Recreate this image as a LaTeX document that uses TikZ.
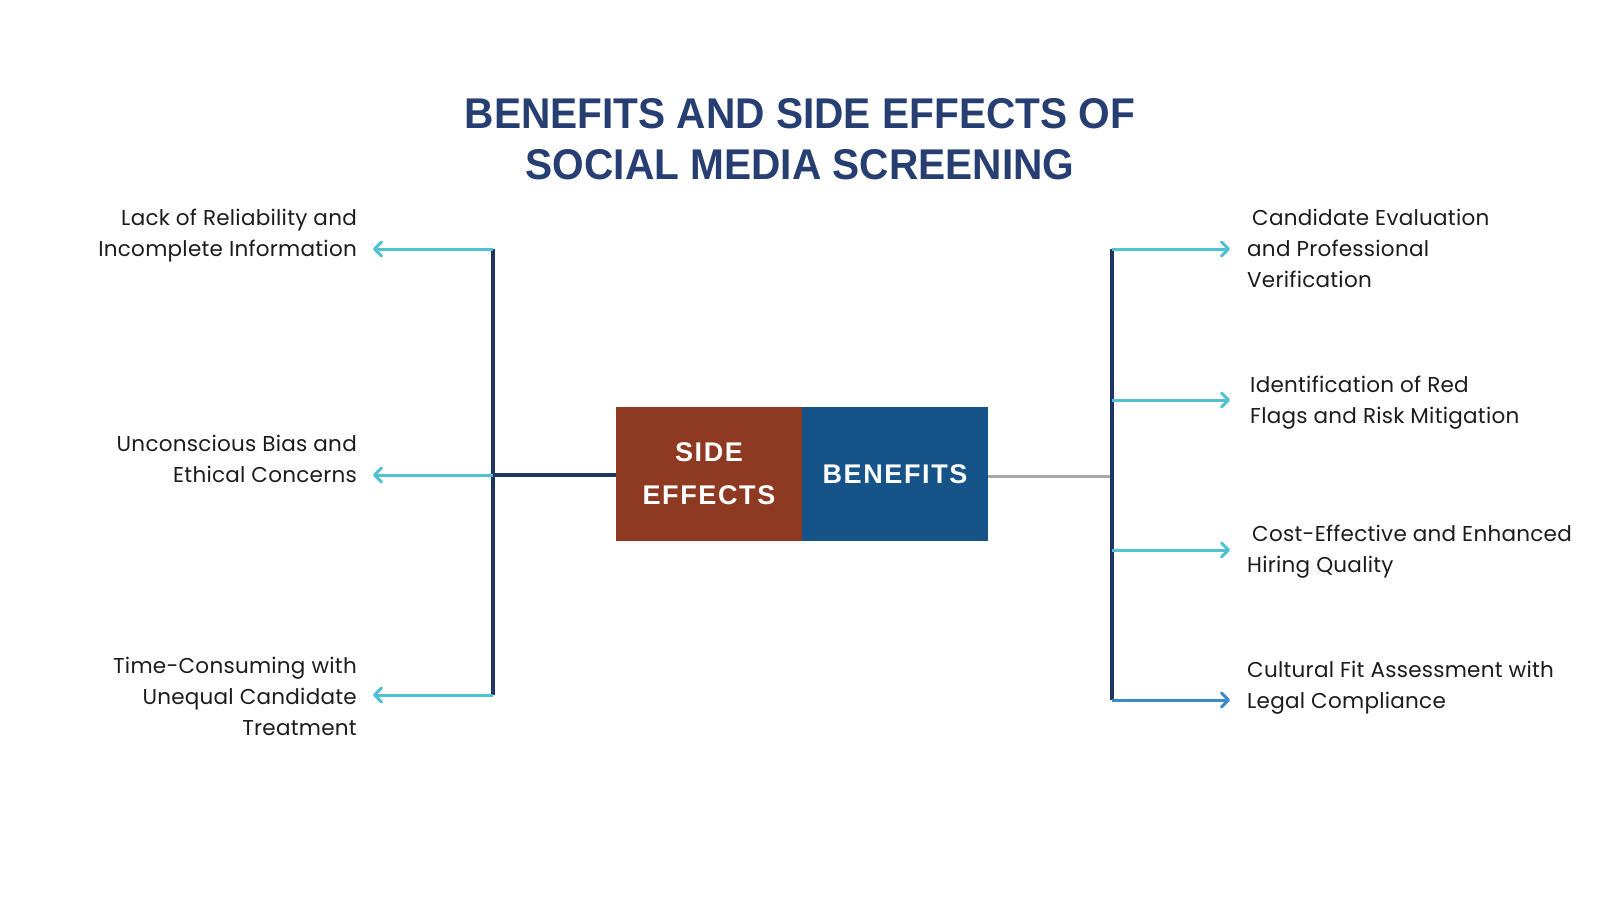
\documentclass[tikz,border=0pt]{standalone}
\usepackage{fontspec}
\usetikzlibrary{arrows.meta}
\setmainfont[LetterSpace=1.2]{Poppins}
\newfontfamily\titlefont[FakeStretch=0.945]{Liberation Sans Bold}
\newfontfamily\boxfont[LetterSpace=6]{Liberation Sans Bold}
\definecolor{navy}{HTML}{263E72}
\definecolor{trunk}{HTML}{1F3563}
\definecolor{cyanarr}{HTML}{4EC2D4}
\definecolor{bluearr}{HTML}{3A8CC8}
\definecolor{brownbox}{HTML}{8E3A22}
\definecolor{bluebox}{HTML}{165389}
\definecolor{grayline}{HTML}{A8A8A8}
\definecolor{txt}{HTML}{1C1C1C}
\tikzset{
  title/.style={font=\titlefont\fontsize{43}{51}\selectfont, text=navy, align=center, inner sep=0pt},
  boxnode/.style={minimum width=186pt, minimum height=134pt, inner sep=0pt, text=white,
    font=\boxfont\fontsize{27}{43}\selectfont, align=center},
  ltext/.style={font=\fontsize{21.5}{31}\selectfont, text=txt, align=right, inner sep=0pt, anchor=base east},
  rtext/.style={font=\fontsize{21.5}{31}\selectfont, text=txt, align=left, inner sep=0pt, anchor=base west},
  trunkline/.style={draw=trunk, line width=3.2pt},
  branch/.style={draw=cyanarr, line width=3pt, -{Straight Barb[length=7pt,width=14pt,line width=3pt,round]}},
}
\begin{document}
\begin{tikzpicture}[x=1pt,y=-1pt]
\useasboundingbox[fill=white] (0,0) rectangle (1600,900);
% title
\node[title, anchor=base] (title) at (800,179) {BENEFITS AND SIDE EFFECTS OF\\SOCIAL MEDIA SCREENING};
% central boxes
\node[boxnode, fill=brownbox] (se) at (709,474) {SIDE\\EFFECTS};
\node[boxnode, fill=bluebox] (bn) at (895,474) {BENEFITS};
% left tree
\coordinate (lt) at (493,249);
\coordinate (lm) at (493,475);
\coordinate (lb) at (493,695);
\coordinate (lta) at (373,249);
\coordinate (lma) at (373,475);
\coordinate (lba) at (373,695);
\draw[trunkline] (se.west |- lm) -- (lm);
\draw[trunkline] (lt) -- (lb);
\draw[branch] (lt) -- (lta);
\draw[branch] (lm) -- (lma);
\draw[branch] (lb) -- (lba);
\node[ltext] (l1) at (357,256) {Lack of Reliability and\\Incomplete Information};
\node[ltext] (l2) at (357,482) {Unconscious Bias and\\Ethical Concerns};
\node[ltext] (l3) at (357,735) {Time-Consuming with\\Unequal Candidate\\Treatment};
% right tree
\coordinate (rm) at (1110,476);
\coordinate (r1) at (1112,249);
\coordinate (r2) at (1112,400);
\coordinate (r3) at (1112,550);
\coordinate (r4) at (1112,700);
\coordinate (r1a) at (1230,249);
\coordinate (r2a) at (1230,400);
\coordinate (r3a) at (1230,550);
\coordinate (r4a) at (1230,700);
\draw[draw=grayline, line width=3pt] (bn.east |- rm) -- (rm);
\draw[trunkline] (r1) -- (r4);
\draw[branch] (r1) -- (r1a);
\draw[branch] (r2) -- (r2a);
\draw[branch] (r3) -- (r3a);
\draw[branch, draw=bluearr] (r4) -- (r4a);
\node[rtext] (t1) at (1247,287) {\hspace{5pt}Candidate Evaluation\\and Professional\\Verification};
\node[rtext] (t2) at (1250,423) {Identification of Red\\Flags and Risk Mitigation};
\node[rtext] (t3) at (1247,572) {\hspace{5pt}Cost-Effective and Enhanced\\Hiring Quality};
\node[rtext] (t4) at (1247,708) {Cultural Fit Assessment with\\Legal Compliance};
\end{tikzpicture}
\end{document}
